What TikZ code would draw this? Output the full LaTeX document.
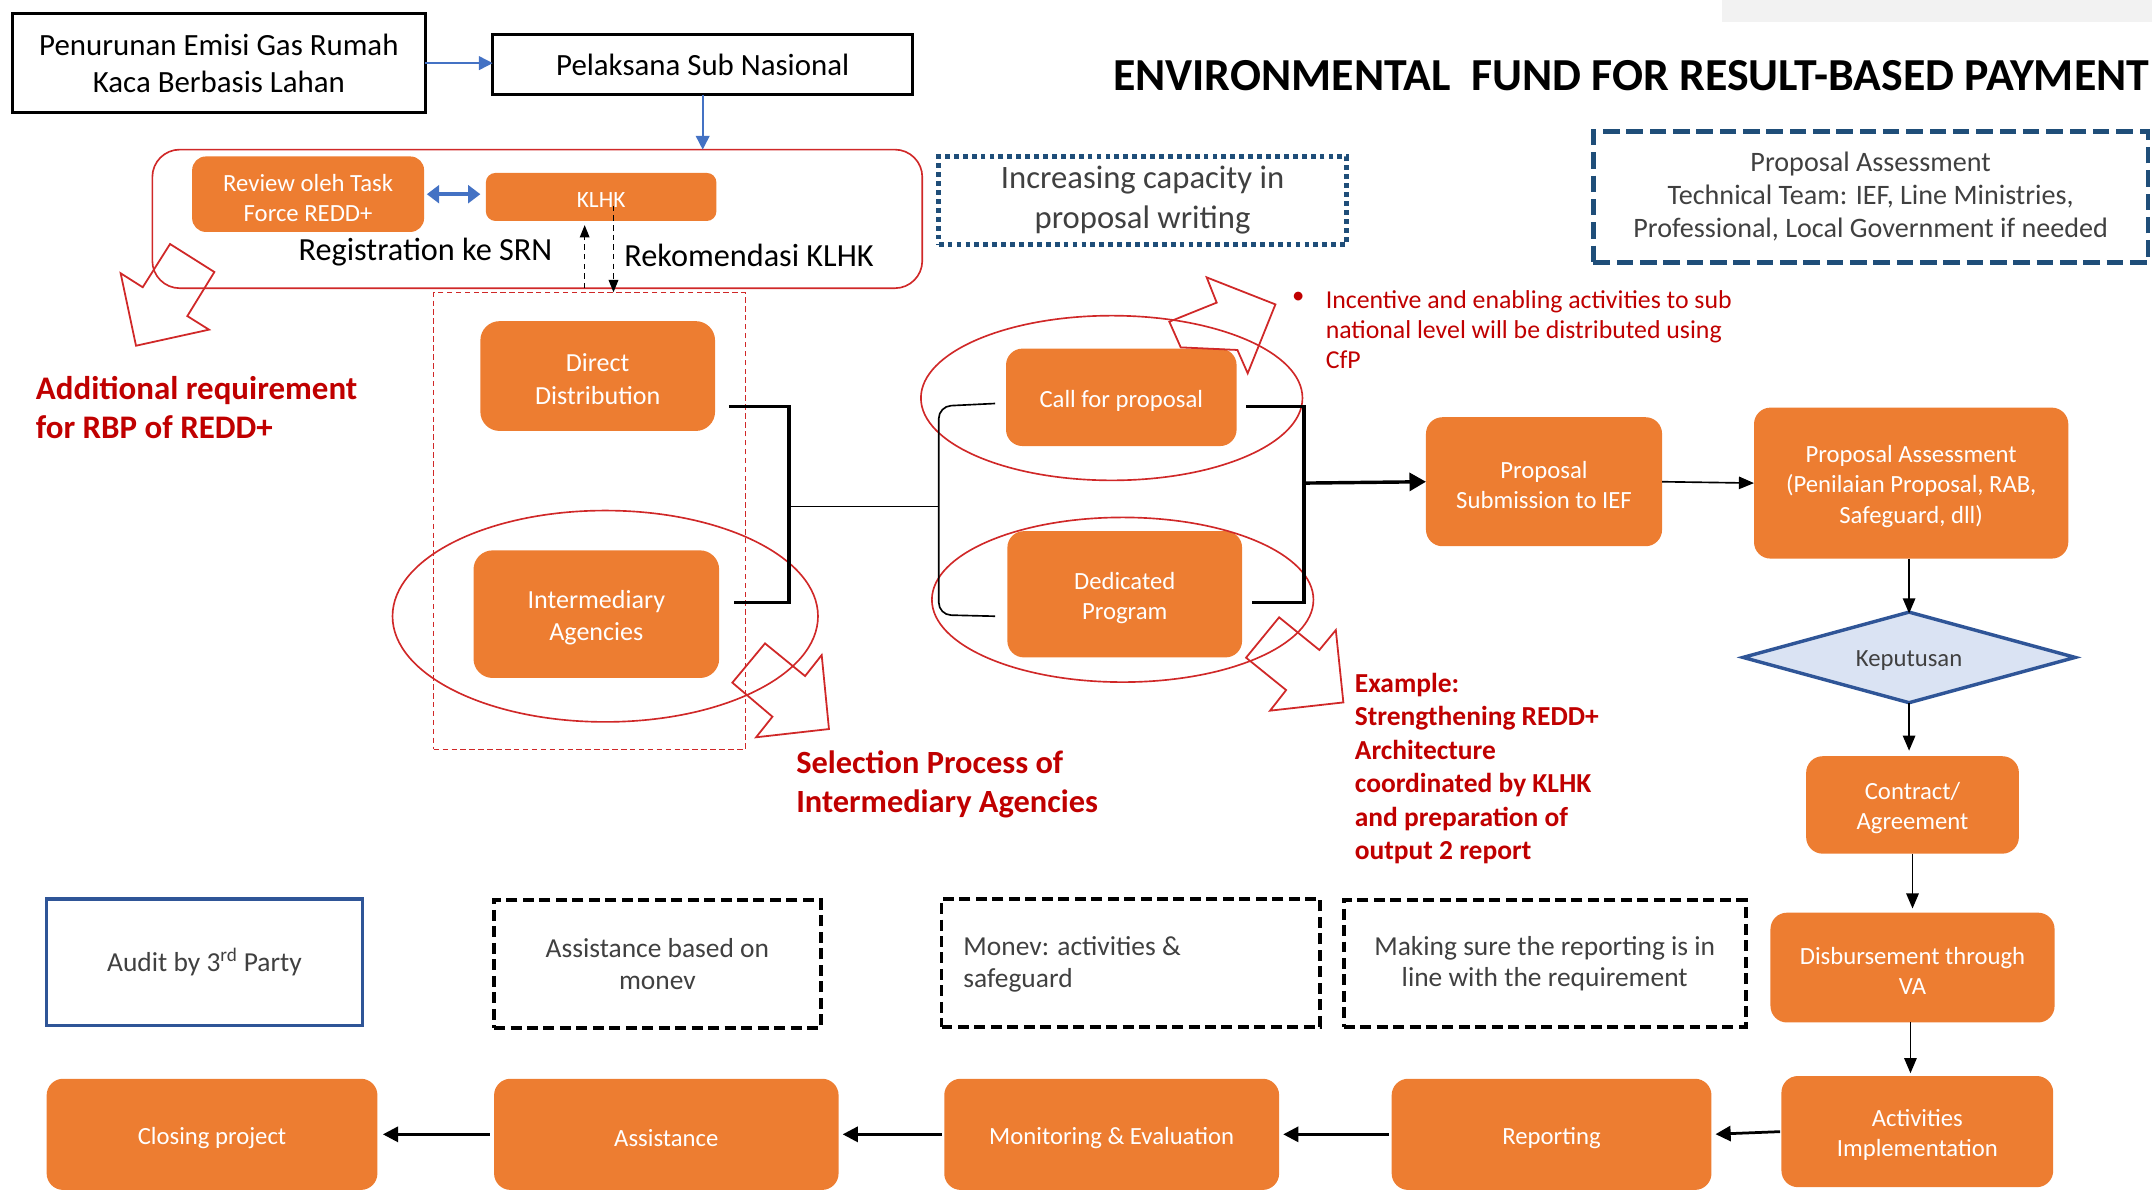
\documentclass[tikz,border=0pt]{standalone}
\usepackage{fontspec}
\setmainfont{Carlito}
\usetikzlibrary{arrows.meta}
\definecolor{orng}{HTML}{ED7D31}
\definecolor{navy}{HTML}{1F4E79}
\definecolor{bblue}{HTML}{4472C4}
\definecolor{dblue}{HTML}{2F5597}
\definecolor{lblue}{HTML}{DAE3F3}
\definecolor{dred}{HTML}{C00000}
\definecolor{lred}{HTML}{D02828}
\definecolor{dgray}{HTML}{404040}
\definecolor{lgray}{HTML}{F2F2F2}
\newcommand{\fsz}[2]{\fontsize{#1}{#2}\selectfont}
% orange box: [options]{name}{cx}{cy}{w}{h}{text}
\newcommand{\obx}[7][]{%
  \node[obox,#1,minimum width=#5pt,minimum height=#6pt] (#2) at (#3,#4) {};
  \node[otxt,#1] (#2-t) at ([yshift=-2.5pt]#2.center) {#7};}
\begin{document}
\begin{tikzpicture}[x=1pt,y=-1pt,
  obox/.style={fill=orng, rounded corners=12, inner sep=0pt, outer sep=0pt},
  otxt/.style={text=white, align=center, inner sep=0pt, outer sep=0pt, font=\fsz{18}{22}},
  bbox/.style={draw=black, line width=2pt, inner sep=0pt, outer sep=0pt, align=center, font=\fsz{22.5}{27}},
  dbox/.style={draw=black, line width=2.8pt, dash pattern=on 8pt off 4pt, inner sep=0pt, outer sep=0pt, text=dgray, align=center, font=\fsz{20}{23}},
  redline/.style={draw=lred, line width=1.2pt},
  blockarrow/.style={draw=lred, line width=1.3pt, line join=miter},
  redtxt/.style={text=dred, font=\bfseries\fsz{24}{29}, align=left, inner sep=0pt},
  blarrow/.style={draw=bblue, line width=1.2pt, -{Triangle[length=10pt,width=10pt]}},
  karrow/.style={draw=black, line width=1.2pt, -{Triangle[length=11pt,width=9pt]}},
  barrow/.style={draw=black, line width=2pt, -{Triangle[length=11pt,width=11pt]}},
  thk/.style={draw=black, line width=2.5pt},
  plain/.style={inner sep=0pt, outer sep=0pt}
]
\useasboundingbox (0,0) rectangle (1568,871.4);

% top-right grey strip
\fill[lgray] (1255,0) rectangle (1568,16);

% top boxes
\node[bbox, minimum width=301pt, minimum height=72pt] (src) at (159.5,46) {Penurunan Emisi Gas Rumah\\Kaca Berbasis Lahan};
\node[bbox, minimum width=306pt, minimum height=44pt] (pel) at (512,47) {Pelaksana Sub Nasional};
\draw[blarrow] (src.east) -- (src.east -| pel.west);

% KLHK group
\node[draw=lred, line width=1.2pt, rounded corners=20, minimum width=561pt, minimum height=101pt, plain] (grp) at (391.5,159.5) {};
\draw[blarrow] (pel.south) -- (pel.south |- grp.north);
\obx[rounded corners=10]{rev}{224.5}{141.5}{169}{55}{Review oleh Task\\Force REDD+}
\obx[rounded corners=7, font=\fsz{17}{20}]{klhk}{438}{143.5}{168}{35}{KLHK}
\draw[draw=bblue, line width=3pt, {Triangle[length=9pt,width=13pt]}-{Triangle[length=9pt,width=13pt]}] ([xshift=2pt]rev.east) -- ([xshift=-4pt]rev.east -| klhk.west);
\node[plain, font=\fsz{23.5}{28}] (reg) at (310,184) {Registration ke SRN};
\node[plain, font=\fsz{23.5}{28}, anchor=west] (rek) at (455,186) {Rekomendasi KLHK};
\coordinate (regb) at (426,210);
\coordinate (regt) at (426,164);
\coordinate (rekt) at (447,150);
\coordinate (rekb) at (447,213);
\draw[draw=black, line width=1pt, dash pattern=on 4pt off 3pt, -{Triangle[length=9pt,width=7pt]}] (regb) -- (regt);
\draw[draw=black, line width=1pt, dash pattern=on 4pt off 3pt, -{Triangle[length=9pt,width=7pt]}] (rekt) -- (rekb);

% dotted capacity box
\node[draw=navy, line width=3.5pt, dash pattern=on 3.5pt off 3pt, minimum width=297pt, minimum height=64pt, plain, text=dgray, align=center, font=\fsz{23.8}{29}] (cap) at (832.5,146) {Increasing capacity in\\proposal writing};

% title
\node[plain, anchor=west, font=\bfseries\fsz{33.4}{38}] (title) at (811,55) {ENVIRONMENTAL\ \ FUND FOR RESULT-BASED PAYMENT};

% technical team box
\node[draw=navy, line width=3.5pt, dash pattern=on 12pt off 5pt, minimum width=404pt, minimum height=95pt, plain, text=dgray, align=center, font=\fsz{20.5}{24}] (tt) at (1363,143.5) {Proposal Assessment\\Technical Team: IEF, Line Ministries,\\Professional, Local Government if needed};

% additional requirement
\node[redtxt, anchor=west] (addl) at (26,297) {Additional requirement\\for RBP of REDD+};
\draw[blockarrow] (123.9,177.8) -- (156.2,198.2) -- (136.5,230.3) -- (152.3,240.2) -- (99.1,251.9) -- (87.9,199.1) -- (104,209.3) -- cycle;

% distribution column
\node[draw=lred, line width=1pt, dash pattern=on 4pt off 2.5pt, minimum width=227pt, minimum height=333pt, plain] (col) at (429.5,379.5) {};
\obx[rounded corners=14, font=\fsz{19}{24}]{dd}{435.5}{274}{171}{80}{Direct\\Distribution}
\obx[rounded corners=14, font=\fsz{19}{23}]{ia}{434.5}{447.5}{179}{93}{Intermediary\\Agencies}
\draw[redline] (441,449) ellipse [x radius=155, y radius=77];
\draw[blockarrow] (557.4,468.8) -- (586.6,492.6) -- (598.7,477.3) -- (604,531.2) -- (550.9,537.2) -- (562.8,522.2) -- (533.6,497.4) -- cycle;
\node[redtxt, anchor=west, font=\bfseries\fsz{23.6}{29}] (sel) at (580,571.5) {Selection Process of\\Intermediary Agencies};

% call / dedicated
\obx{cfp}{817}{289.5}{168}{71}{Call for proposal}
\obx{dp}{819.5}{433}{171}{92}{Dedicated\\Program}
\draw[redline] (810,290) ellipse [x radius=139, y radius=60];
\draw[redline] (818,437) ellipse [x radius=139, y radius=60];

% left bracket
\coordinate (ddo) at (531,296);
\coordinate (iao) at (535,439);
\coordinate (jl) at (575,369);
\coordinate (jr) at (684,369);
\draw[thk] (ddo) -- (575,296) -- (575,439) -- (iao);
\draw[draw=black, line width=1.2pt] (jl) -- (jr);
\coordinate (cfpi) at (725,294);
\coordinate (dpi) at (725,449);
\draw[draw=black, line width=1.2pt, rounded corners=9] (cfpi) -- (684,296) -- (684,448) -- (dpi);

% right bracket
\obx{pss}{1125}{351}{172}{94}{Proposal\\Submission to IEF}
\coordinate (cfpo) at (908,296);
\coordinate (dpo) at (912,439);
\coordinate (jr2) at (950,352);
\draw[thk] (cfpo) -- (950,296) -- (950,439) -- (dpo);
\draw[draw=black, line width=2.5pt, -{Triangle[length=12pt,width=13pt]}] (jr2) -- (pss.west);

% call annotation
\draw[blockarrow] (852.0,234.4) -- (886.5,220.5) -- (879.2,202.1) -- (929.3,221.8) -- (909.1,272.0) -- (901.6,255.0) -- (860.3,253.1) -- cycle;
\node[plain, text=dred, font=\fsz{18}{22}] (bul) at (946,217) {•};
\node[plain, anchor=west, text=dred, align=left, font=\fsz{18.8}{22}] (inc) at (966,240) {Incentive and enabling activities to sub\\national level will be distributed using\\CfP};

% dedicated annotation
\draw[blockarrow] (932.0,449.8) -- (961.3,473.6) -- (973.3,459.1) -- (978.8,511.8) -- (925.4,517.8) -- (937.1,502.8) -- (907.9,479.2) -- cycle;
\node[redtxt, anchor=west, font=\bfseries\fsz{20}{24.4}] (ex) at (987,560) {Example:\\Strengthening REDD+\\Architecture\\coordinated by KLHK\\and preparation of\\output 2 report};

% right column
\obx{pa}{1392.5}{352}{229}{110}{Proposal Assessment\\(Penilaian Proposal, RAB,\\Safeguard, dll)}
\draw[karrow] (pss.east) -- (pa.west);
\coordinate (diaT) at (1391,446);
\coordinate (diaB) at (1391,512);
\coordinate (diaL) at (1270,479);
\coordinate (diaR) at (1512,479);
\draw[draw=dblue, fill=lblue, line width=2.5pt, line join=miter] (diaT) -- (diaR) -- (diaB) -- (diaL) -- cycle;
\node[plain, text=dgray, font=\fsz{18}{22}] (dia) at (1391,481) {Keputusan};
\draw[karrow] (pa.south -| diaT) -- ([yshift=-1pt]diaT);
\obx{con}{1393.5}{586.5}{155}{71}{Contract/\\Agreement}
\draw[karrow, shorten >=4pt] (diaB) -- (diaB |- con.north);
\obx{disb}{1393.5}{705}{207}{80}{Disbursement through\\VA}
\draw[karrow, shorten >=3pt] (con.south) -- (disb.north);
\obx{act}{1397}{824.5}{198}{81}{Activities\\Implementation}
\coordinate (disbo) at (1392,745);
\coordinate (acti) at (1392,784);
\draw[karrow, shorten >=2pt] (disbo) -- (acti);

% bottom row
\obx{rep}{1130.5}{826.5}{233}{81}{Reporting}
\obx{mon}{810}{826.5}{244}{81}{Monitoring \& Evaluation}
\obx{asst}{485.5}{826.5}{251}{81}{Assistance}
\obx{clo}{154.5}{826.5}{241}{81}{Closing project}
\draw[barrow, shorten >=3pt, shorten <=1pt] (act.west) -- (rep.east);
\draw[barrow, shorten >=3pt, shorten <=2pt] (rep.west) -- (mon.east);
\draw[barrow, shorten >=3pt, shorten <=2pt] (mon.west) -- (asst.east);
\draw[barrow, shorten >=4pt, shorten <=3pt] (asst.west) -- (clo.east);

% notes row
\node[draw=dblue, line width=2.5pt, minimum width=230pt, minimum height=92pt, plain, text=dgray, font=\fsz{20}{24}] (aud) at (149,701) {Audit by 3\textsuperscript{rd} Party};
\node[dbox, minimum width=238pt, minimum height=93pt] (n1) at (479,702.5) {Assistance based on\\monev};
\node[dbox, minimum width=276pt, minimum height=93pt] (n2) at (824,701.5) {};
\node[plain, anchor=west, text=dgray, align=left, font=\fsz{20}{23}] (n2t) at (702,702.5) {Monev: activities \&\\safeguard};
\node[dbox, minimum width=293pt, minimum height=92pt] (n3) at (1125.5,702) {Making sure the reporting is in\\line with the requirement};
\end{tikzpicture}
\end{document}
